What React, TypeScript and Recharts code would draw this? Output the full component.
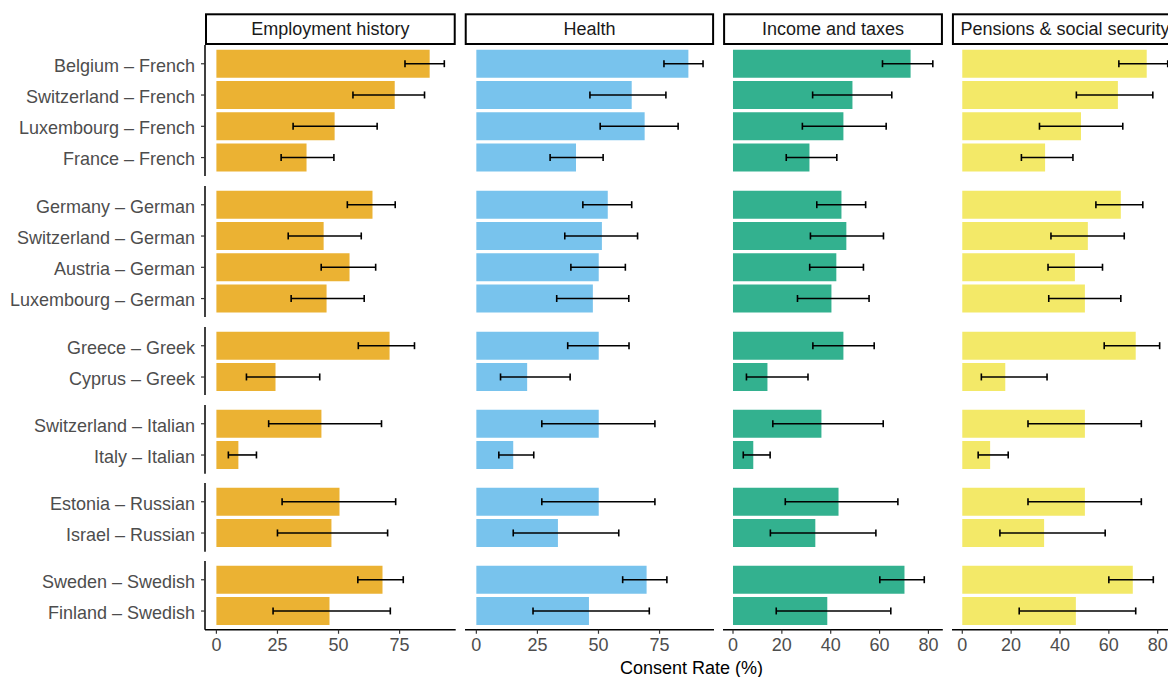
import React from 'react';
import { BarChart, Bar, XAxis, YAxis, ErrorBar } from 'recharts';

const FONT = '"Liberation Sans", Arial, Helvetica, sans-serif';

// ---------- data ----------
const topics = ['Employment history', 'Health', 'Income and taxes', 'Pensions & social security'];
const topicColors = ['#EBB233', '#78C3ED', '#33B18F', '#F3E968'];

const languages = ['French', 'German', 'Greek', 'Italian', 'Russian', 'Swedish'];
const countries = [
  'Belgium', 'Switzerland', 'Luxembourg', 'France',
  'Germany', 'Switzerland', 'Austria', 'Luxembourg',
  'Greece', 'Cyprus',
  'Switzerland', 'Italy',
  'Estonia', 'Israel',
  'Sweden', 'Finland',
];
const rowLanguage = [
  'French', 'French', 'French', 'French',
  'German', 'German', 'German', 'German',
  'Greek', 'Greek',
  'Italian', 'Italian',
  'Russian', 'Russian',
  'Swedish', 'Swedish',
];

const employmentRate = [87.3, 73.0, 48.4, 36.9, 63.9, 43.9, 54.5, 45.1, 70.9, 24.2, 43.0, 9.0, 50.4, 47.1, 68.0, 46.3];
const employmentLow = [77.2, 55.9, 31.4, 26.5, 53.6, 29.4, 42.9, 30.6, 58.1, 12.3, 21.4, 4.9, 26.9, 25.0, 57.9, 23.2];
const employmentHigh = [93.3, 85.2, 65.8, 48.1, 73.2, 59.3, 65.2, 60.5, 81.1, 42.3, 67.6, 16.4, 73.4, 70.1, 76.5, 71.2];

const healthRate = [86.8, 63.6, 68.9, 40.8, 53.8, 51.4, 50.1, 47.7, 50.1, 20.8, 50.1, 15.1, 50.1, 33.4, 69.7, 46.1];
const healthLow = [76.8, 46.5, 50.7, 30.2, 43.6, 36.2, 38.7, 32.9, 37.4, 9.9, 26.8, 9.2, 26.8, 15.1, 59.9, 23.2];
const healthHigh = [92.8, 77.6, 82.6, 51.9, 63.6, 66.0, 61.0, 62.4, 62.5, 38.4, 73.1, 23.5, 73.1, 58.3, 78.0, 70.8];

const incomeRate = [72.7, 48.9, 45.2, 31.3, 44.4, 46.4, 42.3, 40.3, 45.2, 14.1, 36.2, 8.3, 43.2, 33.7, 70.2, 38.6];
const incomeLow = [61.2, 32.6, 28.4, 21.8, 34.3, 31.7, 31.4, 26.4, 32.7, 5.5, 16.3, 4.2, 21.4, 15.3, 60.1, 17.7];
const incomeHigh = [81.8, 65.0, 62.7, 42.5, 54.3, 61.6, 53.4, 55.7, 57.8, 30.7, 61.5, 15.2, 67.5, 58.5, 78.3, 64.6];

const pensionRate = [75.5, 63.7, 48.6, 33.9, 64.9, 51.4, 46.1, 50.2, 71.0, 17.6, 50.2, 11.4, 50.2, 33.5, 69.8, 46.5];
const pensionLow = [64.1, 46.7, 31.6, 24.2, 54.7, 36.3, 35.1, 35.4, 58.1, 7.8, 26.9, 6.5, 26.9, 15.4, 60.0, 23.3];
const pensionHigh = [84.1, 78.0, 65.7, 45.3, 73.9, 66.3, 57.4, 64.9, 80.8, 34.7, 73.3, 18.8, 73.3, 58.5, 78.2, 71.0];

const ticks25 = [0, 25, 50, 75];
const ticks20 = [0, 20, 40, 60, 80];

const xTitle = 'Consent Rate (%)';

// ---------- layout constants ----------
const P = 31.27; // row pitch
const GAP_Y = 9.44;
const TOP = 45;
const PXU = 2.443; // px per percentage unit
const GAP_X = 9;
const LEFT = 205;
const XAXIS_H = 47;

const series = [
  { rate: employmentRate, low: employmentLow, high: employmentHigh, ticks: ticks25 },
  { rate: healthRate, low: healthLow, high: healthHigh, ticks: ticks25 },
  { rate: incomeRate, low: incomeLow, high: incomeHigh, ticks: ticks20 },
  { rate: pensionRate, low: pensionLow, high: pensionHigh, ticks: ticks20 },
];

export default function App() {
  let cx = LEFT;
  const cols = series.map((s) => {
    const m = Math.max(...s.high);
    const width = 1.1 * m * PXU;
    const g = { left: cx, width, domain: [-0.05 * m, 1.05 * m] as [number, number] };
    cx += width + GAP_X;
    return g;
  });

  let cy = TOP;
  const rows = languages.map((lang) => {
    const idx = rowLanguage.map((l, i) => (l === lang ? i : -1)).filter((i) => i >= 0);
    const height = (idx.length + 0.2) * P;
    const g = { top: cy, height, idx };
    cy += height + GAP_Y;
    return g;
  });
  const plotCenter = (cols[0].left + cols[3].left + cols[3].width) / 2;

  const axisLine = { stroke: '#000', strokeWidth: 1.5 };
  const tickLine = { stroke: '#333', strokeWidth: 1.2 };
  const xTickStyle = { fill: '#4d4d4d', fontSize: 18, fontFamily: FONT };
  const yTickStyle = { fill: '#4d4d4d', fontSize: 18, fontFamily: FONT, dy: 1.5 };

  return (
    <div
      style={{
        position: 'absolute',
        left: 0,
        top: 0,
        width: 1168,
        height: 677,
        overflow: 'hidden',
        background: '#fff',
        fontFamily: FONT,
      }}
    >
      <svg
        width={1168}
        height={677}
        style={{ position: 'absolute', left: 0, top: 0, pointerEvents: 'none' }}
      >
        {cols.map((c, i) => (
          <g key={i}>
            <rect
              x={c.left + 1}
              y={14.3}
              width={c.width - 2}
              height={29.7}
              fill="#fff"
              stroke="#000"
              strokeWidth={2}
            />
            <text
              x={c.left + c.width / 2}
              y={29}
              textAnchor="middle"
              dominantBaseline="central"
              fontSize={18}
              fill="#1a1a1a"
              fontFamily={FONT}
            >
              {topics[i]}
            </text>
          </g>
        ))}
        <text
          x={plotCenter}
          y={667.5}
          textAnchor="middle"
          dominantBaseline="central"
          fontSize={18}
          fill="#000"
          fontFamily={FONT}
        >
          {xTitle}
        </text>
      </svg>

      {rows.map((r, ri) =>
        cols.map((c, ci) => {
          const s = series[ci];
          const last = ri === rows.length - 1;
          const data = r.idx.map((i) => ({
            label: `${countries[i]} – ${rowLanguage[i]}`,
            value: s.rate[i],
            err: [s.rate[i] - s.low[i], s.high[i] - s.rate[i]],
          }));
          const leftPad = ci === 0 ? c.left : 0;
          return (
            <div
              key={`${ri}-${ci}`}
              style={{ position: 'absolute', left: ci === 0 ? 0 : c.left, top: r.top }}
            >
              <BarChart
                layout="vertical"
                width={leftPad + c.width}
                height={r.height + (last ? XAXIS_H : 0)}
                data={data}
                margin={{ top: 0, right: 0, bottom: 0, left: 0 }}
                barCategoryGap="5%"
              >
                <XAxis
                  type="number"
                  domain={c.domain}
                  allowDataOverflow
                  ticks={s.ticks}
                  interval={0}
                  hide={!last}
                  height={XAXIS_H}
                  tickSize={4}
                  tickMargin={4}
                  axisLine={axisLine}
                  tickLine={tickLine}
                  tick={xTickStyle}
                />
                <YAxis
                  type="category"
                  dataKey="label"
                  hide={ci !== 0}
                  width={ci === 0 ? c.left : 0}
                  padding={{ top: 0.1 * P, bottom: 0.1 * P }}
                  interval={0}
                  tickSize={4}
                  tickMargin={6}
                  axisLine={axisLine}
                  tickLine={tickLine}
                  tick={yTickStyle}
                />
                <Bar dataKey="value" fill={topicColors[ci]} isAnimationActive={false}>
                  <ErrorBar
                    dataKey="err"
                    direction="x"
                    width={3.5}
                    stroke="#000"
                    strokeWidth={1.6}
                    isAnimationActive={false}
                  />
                </Bar>
              </BarChart>
            </div>
          );
        })
      )}
    </div>
  );
}
